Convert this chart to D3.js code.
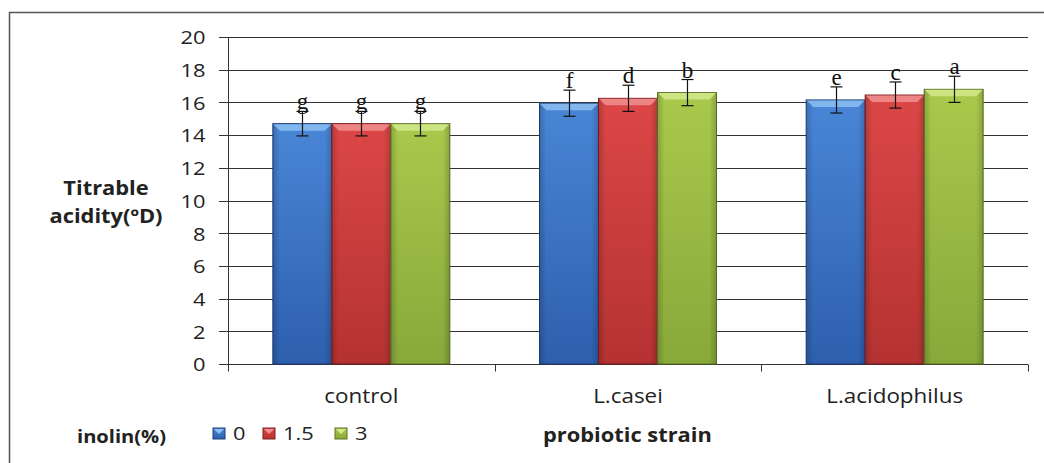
<!DOCTYPE html>
<html><head><meta charset="utf-8">
<script src="https://cdn.jsdelivr.net/npm/d3@7"></script>
<style>
body{margin:0;background:#fff;}
svg{display:block;}
</style></head>
<body><svg id="c" width="1044" height="463"></svg>
<script>
const categories = ["control", "L.casei", "L.acidophilus"];
const series = ["0", "1.5", "3"];
const values0 = [14.7, 15.95, 16.15];
const values15 = [14.7, 16.25, 16.45];
const values3 = [14.7, 16.6, 16.8];
const errors0 = [0.75, 0.8, 0.8];
const errors15 = [0.75, 0.8, 0.8];
const errors3 = [0.75, 0.8, 0.8];
const letters0 = ["g", "f", "e"];
const letters15 = ["g", "d", "c"];
const letters3 = ["g", "b", "a"];
const yTicks = [0, 2, 4, 6, 8, 10, 12, 14, 16, 18, 20];

const seriesVals = [values0, values15, values3];
const seriesErr = [errors0, errors15, errors3];
const seriesLet = [letters0, letters15, letters3];
const colors = [
  {top:"#4a86d6", bot:"#2d5fae", bevel:"#8cc0f2", edge:"#1d3f78"},
  {top:"#dc4747", bot:"#b53232", bevel:"#f19090", edge:"#7a1e1e"},
  {top:"#a9c94c", bot:"#88a83a", bevel:"#d2ea8c", edge:"#5c7322"}
];
const FONT = "'Open Sans', 'Noto Sans', sans-serif";
const SX = 1.15;

const svg = d3.select("#c");
const defs = svg.append("defs");
colors.forEach((c,i)=>{
  const g = defs.append("linearGradient").attr("id","g"+i).attr("x1",0).attr("x2",0).attr("y1",0).attr("y2",1);
  g.append("stop").attr("offset","0%").attr("stop-color",c.top);
  g.append("stop").attr("offset","100%").attr("stop-color",c.bot);
  const h = defs.append("linearGradient").attr("id","h"+i).attr("x1",0).attr("x2",1).attr("y1",0).attr("y2",0);
  h.append("stop").attr("offset","0%").attr("stop-color","#000").attr("stop-opacity",0.18);
  h.append("stop").attr("offset","12%").attr("stop-color","#000").attr("stop-opacity",0);
  h.append("stop").attr("offset","88%").attr("stop-color","#000").attr("stop-opacity",0);
  h.append("stop").attr("offset","100%").attr("stop-color","#000").attr("stop-opacity",0.18);
});

// text helper: horizontally stretched real text
function label(parent, x, y, txt, opts) {
  return parent.append("text")
    .attr("transform", `translate(${x},${y}) scale(${SX},1)`)
    .attr("text-anchor", opts.anchor || "start")
    .attr("font-family", FONT)
    .attr("font-size", opts.size)
    .attr("font-weight", opts.bold ? "bold" : "normal")
    .attr("fill", "#222")
    .text(txt);
}

// frame
svg.append("path").attr("d","M9.5,463 V12.5 H1044").attr("fill","none").attr("stroke","#555").attr("stroke-width",1.5);

const x = d3.scaleBand().domain(categories).range([228, 1028]).padding(0);
const xi = d3.scaleBand().domain(series).range([0, x.bandwidth()]).paddingInner(0).paddingOuter(0.76);
const y = d3.scaleLinear().domain([0, 20]).range([364, 37]);

// gridlines
svg.append("g").selectAll("line").data(yTicks).join("line")
  .attr("x1", 219).attr("x2", 1028)
  .attr("y1", d=>Math.round(y(d))+0.5).attr("y2", d=>Math.round(y(d))+0.5)
  .attr("stroke", "#333").attr("stroke-width", 1);

// y axis
const yAxis = svg.append("g").attr("transform","translate(228.5,0)")
  .call(d3.axisLeft(y).tickValues(yTicks).tickSize(0).tickPadding(23));
yAxis.select(".domain").attr("stroke","#333").attr("d","M0,"+y(20)+"V"+y(0));
yAxis.selectAll("text").attr("font-family",FONT).attr("font-size",19).attr("fill","#222")
  .attr("x", null).attr("dy","0.36em").attr("transform",`translate(-23,0) scale(${SX},1)`);

// x axis
const xAxis = svg.append("g").attr("transform","translate(0,"+(Math.round(y(0))+0.5)+")");
xAxis.append("line").attr("x1",228).attr("x2",1028).attr("stroke","#333");
const tickPos = [228, ...categories.map(c=>x(c)+x.bandwidth())];
xAxis.selectAll("line.t").data(tickPos).join("line").attr("class","t")
  .attr("x1",d=>Math.round(d)+0.5).attr("x2",d=>Math.round(d)+0.5).attr("y1",0).attr("y2",7).attr("stroke","#333");
categories.forEach(c=>label(xAxis, x(c)+x.bandwidth()/2, 38, c, {size:19.5, anchor:"middle"}));

// bars
const bw = xi.bandwidth();
const bev = 7;
series.forEach((s,si)=>{
  const g = svg.append("g");
  categories.forEach((c,ci)=>{
    const v = seriesVals[si][ci];
    const x0 = x(c)+xi(s), y0 = y(v), h = y(0)-y(v);
    g.append("rect").attr("x",x0).attr("y",y0).attr("width",bw).attr("height",h)
      .attr("fill","url(#g"+si+")").attr("stroke",colors[si].edge).attr("stroke-width",1);
    g.append("rect").attr("x",x0).attr("y",y0).attr("width",bw).attr("height",h).attr("fill","url(#h"+si+")");
    g.append("path").attr("d",`M${x0+0.5},${y0+0.5} H${x0+bw-0.5} L${x0+bw-bev},${y0+bev} H${x0+bev} Z`)
      .attr("fill",colors[si].bevel).attr("opacity",0.85);
  });
});

// error bars + letters
series.forEach((s,si)=>{
  const g = svg.append("g");
  categories.forEach((c,ci)=>{
    const v = seriesVals[si][ci], e = seriesErr[si][ci];
    const cx = Math.round(x(c)+xi(s)+bw/2)+0.5;
    const yt = y(v+e), yb = y(v-e);
    g.append("line").attr("x1",cx).attr("x2",cx).attr("y1",yt).attr("y2",yb).attr("stroke","#111").attr("stroke-width",1.2);
    g.append("line").attr("x1",cx-6).attr("x2",cx+6).attr("y1",yt).attr("y2",yt).attr("stroke","#111").attr("stroke-width",1.2);
    g.append("line").attr("x1",cx-6).attr("x2",cx+6).attr("y1",yb).attr("y2",yb).attr("stroke","#111").attr("stroke-width",1.2);
    g.append("text").attr("x",cx).attr("y",yt-2).attr("text-anchor","middle")
      .attr("font-family","'Liberation Serif', 'Times New Roman', serif").attr("font-size",23).attr("fill","#111")
      .text(seriesLet[si][ci]);
  });
});

// y title
label(svg, 106, 195, "Titrable", {size:19, bold:true, anchor:"middle"});
label(svg, 106, 223, "acidity(ºD)", {size:19, bold:true, anchor:"middle"});

// legend
label(svg, 77, 443, "inolin(%)", {size:17.5, bold:true});
const legX = [213, 263, 335];
series.forEach((s,si)=>{
  const lx = legX[si];
  svg.append("rect").attr("x",lx).attr("y",428).attr("width",12).attr("height",11)
    .attr("fill","url(#g"+si+")").attr("stroke",colors[si].edge);
  svg.append("path").attr("d",`M${lx+1},${429} H${lx+11} L${lx+6},${434} Z`).attr("fill",colors[si].bevel);
  label(svg, lx+20, 440, s, {size:19});
});
label(svg, 543, 442, "probiotic strain", {size:19, bold:true});
</script></body></html>
